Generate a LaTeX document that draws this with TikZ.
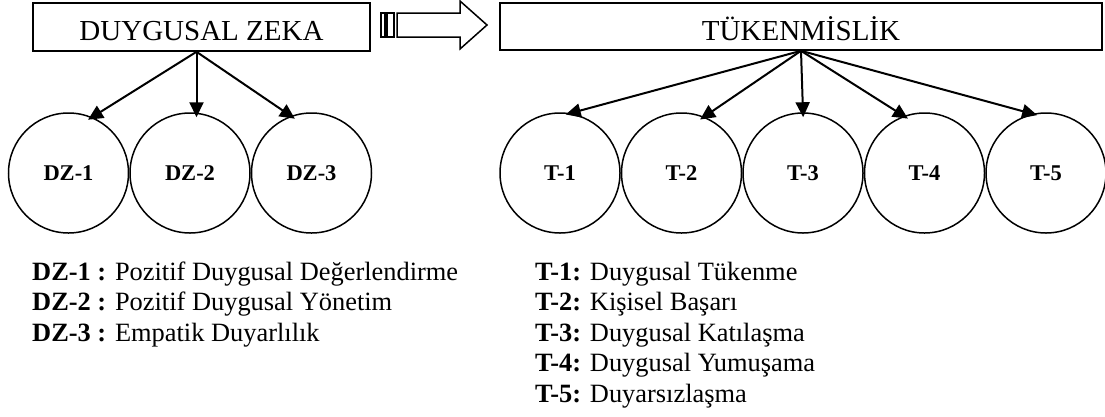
\documentclass[tikz,border=0pt]{standalone}
\usepackage{fontspec}
\setmainfont{Liberation Serif}
\usetikzlibrary{arrows.meta,positioning}

\tikzset{
  titlebox/.style={draw,line width=1.6pt,inner sep=0pt,text height=27pt,text depth=0pt,
    font=\fontsize{29}{34}\selectfont},
  circ/.style={draw,circle,line width=1.5pt,minimum size=120pt,inner sep=0pt,
    font=\fontsize{22.5}{26}\selectfont\bfseries},
  link/.style={line width=2pt,-{Triangle[length=15pt,width=14pt]},shorten >=-5pt},
  legend/.style={anchor=base west,inner sep=0pt,font=\fontsize{26.4}{30}\selectfont},
}

\begin{document}
\begin{tikzpicture}[x=1pt,y=-1pt]
  \useasboundingbox (0,0) rectangle (1105,416);

  % the two headings
  \node[titlebox,minimum width=337pt,minimum height=48pt] (dz) at (201.5,27) {DUYGUSAL ZEKA};
  \node[titlebox,minimum width=602pt,minimum height=47pt] (tk) at (801,26.5) {TÜKENMİSLİK};

  % block arrow between them
  \draw[line width=1.5pt] (381,13) rectangle (385,37) (387,13) rectangle (394,37);
  \draw[line width=1.5pt,line join=miter]
       (397,13) -- (460,13) -- (460,1) -- (487,25) -- (460,49) -- (460,37) -- (397,37) -- cycle;

  % sub-dimensions
  \node[circ] (dz1) at (68.5,173) {DZ-1};
  \node[circ,right=0pt of dz1] (dz2) {DZ-2};
  \node[circ,right=0pt of dz2] (dz3) {DZ-3};

  \node[circ] (t1) at (560,173) {T-1};
  \foreach \i [remember=\i as \j (initially 1)] in {2,...,5}
     \node[circ,right=0pt of t\j] (t\i) {T-\i};

  % arrows
  \coordinate (dzs) at ([xshift=-5pt]dz.south);
  \draw[link] (dzs) -- (dz1.67);
  \draw[link] (dzs) -- (dzs |- dz2.north);
  \draw[link] (dzs) -- (dz3.110);

  \foreach \i/\a in {1/80, 2/68, 4/110, 5/103}
     \draw[link] (tk.south) -- (t\i.\a);
  \draw[link] (tk.south) -- (t3.north);

  % legend
  \foreach \name [count=\i] in {Pozitif Duygusal Değerlendirme,
                                Pozitif Duygusal Yönetim,
                                Empatik Duyarlılık}
     \node[legend] (dzl\i) at (32,{280+30.5*(\i-1)}) {\textbf{DZ-\i{} :} \name};

  \foreach \name [count=\i] in {Duygusal Tükenme, Kişisel Başarı, Duygusal Katılaşma,
                                Duygusal Yumuşama, Duyarsızlaşma}
     \node[legend] (tl\i) at (535,{280+30.5*(\i-1)}) {\textbf{T-\i:} \name};
\end{tikzpicture}
\end{document}
